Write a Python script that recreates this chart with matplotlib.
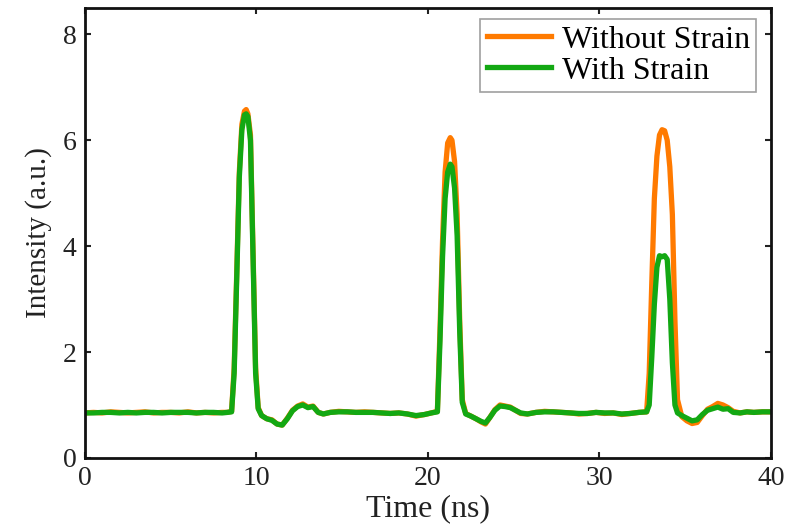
import matplotlib
matplotlib.use("Agg")
import matplotlib.pyplot as plt

# time axis (ns)
time_ns = [0, 0.5, 1, 1.5, 2, 2.5, 3, 3.5, 4, 4.5, 5, 5.5, 6, 6.5, 7, 7.5, 8, 8.3, 8.55,
           8.7, 8.85, 9.0, 9.15, 9.3, 9.4, 9.5, 9.65, 9.8, 9.95, 10.1, 10.3, 10.6, 10.9,
           11.2, 11.5, 11.8, 12.1, 12.4, 12.7, 13.0, 13.3, 13.6, 13.9, 14.3, 14.8, 15.3,
           15.8, 16.3, 16.8, 17.3, 17.8, 18.3, 18.8, 19.3, 19.8, 20.2, 20.55,
           20.7, 20.85, 21.0, 21.15, 21.3, 21.4, 21.55, 21.7, 21.85, 22.0, 22.2, 22.5,
           22.8, 23.1, 23.35, 23.6, 23.9, 24.2, 24.5, 24.8, 25.1, 25.4, 25.8, 26.3, 26.8,
           27.3, 27.8, 28.3, 28.8, 29.3, 29.8, 30.3, 30.8, 31.3, 31.8, 32.3, 32.75,
           32.9, 33.05, 33.2, 33.35, 33.5, 33.65, 33.8, 33.95, 34.1, 34.25, 34.4, 34.55,
           34.8, 35.1, 35.4, 35.7, 36.0, 36.3, 36.6, 36.9, 37.2, 37.5, 37.8, 38.2, 38.6,
           39.0, 39.5, 40]

without_strain = [0.85, 0.86, 0.85, 0.87, 0.86, 0.85, 0.86, 0.87, 0.85, 0.86, 0.86, 0.85, 0.87, 0.85, 0.86, 0.85, 0.86, 0.86, 0.88,
                  1.7, 3.5, 5.4, 6.3, 6.55, 6.58, 6.5, 6.1, 3.9, 1.7, 0.95, 0.8, 0.74, 0.72,
                  0.64, 0.62, 0.75, 0.9, 0.98, 1.02, 0.96, 0.98, 0.86, 0.83, 0.86, 0.88, 0.87,
                  0.86, 0.87, 0.86, 0.85, 0.84, 0.85, 0.83, 0.79, 0.82, 0.85, 0.88,
                  2.4, 4.1, 5.4, 5.95, 6.05, 6.0, 5.6, 4.6, 2.6, 1.1, 0.84, 0.79,
                  0.74, 0.68, 0.64, 0.76, 0.91, 1.0, 0.98, 0.96, 0.9, 0.84, 0.83, 0.86, 0.88,
                  0.87, 0.86, 0.85, 0.83, 0.84, 0.86, 0.84, 0.85, 0.82, 0.84, 0.86, 0.87,
                  1.6, 3.3, 4.9, 5.7, 6.1, 6.2, 6.18, 6.0, 5.5, 4.6, 2.6, 1.1,
                  0.78, 0.7, 0.65, 0.67, 0.8, 0.92, 0.97, 1.03, 1.0, 0.95, 0.88, 0.85, 0.87,
                  0.86, 0.87, 0.87]

with_strain = [0.85, 0.85, 0.86, 0.86, 0.85, 0.86, 0.85, 0.86, 0.86, 0.85, 0.86, 0.86, 0.86, 0.85, 0.86, 0.86, 0.85, 0.86, 0.87,
               1.6, 3.4, 5.3, 6.2, 6.48, 6.5, 6.45, 6.0, 3.8, 1.6, 0.93, 0.8, 0.74, 0.71,
               0.64, 0.62, 0.74, 0.89, 0.97, 1.0, 0.95, 0.97, 0.86, 0.83, 0.86, 0.87, 0.87,
               0.86, 0.86, 0.86, 0.85, 0.84, 0.85, 0.83, 0.8, 0.82, 0.85, 0.87,
               2.2, 3.8, 4.9, 5.4, 5.55, 5.5, 5.1, 4.2, 2.4, 1.05, 0.83, 0.79,
               0.74, 0.69, 0.66, 0.76, 0.9, 0.98, 0.97, 0.95, 0.9, 0.85, 0.83, 0.86, 0.87,
               0.87, 0.86, 0.85, 0.84, 0.84, 0.86, 0.85, 0.85, 0.83, 0.84, 0.86, 0.87,
               1.0, 1.9, 2.9, 3.6, 3.82, 3.8, 3.82, 3.75, 3.0, 1.8, 1.0, 0.85,
               0.8, 0.75, 0.7, 0.72, 0.82, 0.9, 0.93, 0.96, 0.92, 0.93, 0.86, 0.85, 0.87,
               0.86, 0.87, 0.87]

plt.rcParams["font.family"] = "Liberation Serif"

fig = plt.figure(figsize=(7.94, 5.30), dpi=100)
ax = fig.add_axes([0.107, 0.136, 0.864, 0.849])

ax.plot(time_ns, without_strain, color="#ff7a00", lw=3.8, label="Without Strain")
ax.plot(time_ns, with_strain, color="#13a813", lw=3.8, label="With Strain")

ax.set_xlim(0, 40)
ax.set_ylim(0, 8.5)
ax.set_xticks([0, 10, 20, 30, 40])
ax.set_yticks([0, 2, 4, 6, 8])
ax.tick_params(direction="in", top=True, right=True, length=4, width=1.5,
               labelsize=20, colors="#222222", pad=6)
for s in ax.spines.values():
    s.set_linewidth(2)
    s.set_color("#111111")

ax.set_xlabel("Time (ns)", fontsize=23, labelpad=2, color="#222222")
ax.set_ylabel("Intensity (a.u.)", fontsize=21, labelpad=8, color="#222222")

leg = ax.legend(loc="upper right", fontsize=23, handlelength=2.0, frameon=True,
                fancybox=False, borderpad=0.2, labelspacing=0.05, handletextpad=0.35,
                borderaxespad=0.2, bbox_to_anchor=(0.988, 0.99))
leg.get_frame().set_edgecolor("#888888")
leg.get_frame().set_linewidth(1.2)

fig.savefig("out.png", dpi=100)
